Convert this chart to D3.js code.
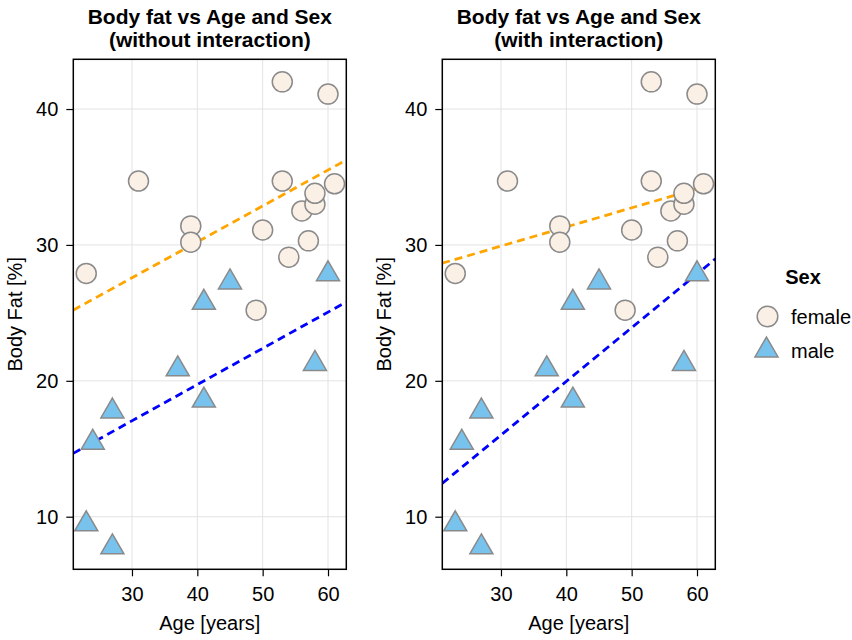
<!DOCTYPE html>
<html>
<head>
<meta charset="utf-8">
<script src="https://cdn.jsdelivr.net/npm/d3@7"></script>
<style>
  body { margin: 0; background: #fff; }
  text { font-family: "Liberation Sans", Arial, sans-serif; fill: #000; }
</style>
</head>
<body>
<script>
// Step 1: data
// =================================
var femaleAge = [23, 31, 39, 39, 49, 50, 53, 53, 54, 56, 57, 58, 58, 60, 61];
var femaleFat = [27.9, 34.7, 31.4, 30.2, 25.2, 31.1, 42.0, 34.7, 29.1, 32.5, 30.3, 33.0, 33.8, 41.1, 34.5];

var maleAge = [23, 24, 27, 27, 37, 41, 41, 45, 58, 60];
var maleFat = [9.7, 15.7, 18.0, 8.0, 21.1, 18.8, 26.0, 27.5, 21.5, 28.1];

// fitted lines, value at the two ends of the age axis
var lineAges = [21, 62.8];
var fitNoInteraction = { female: [25.2, 36.25], male: [14.66, 25.8] };
var fitInteraction = { female: [28.65, 34.53], male: [12.45, 28.97] };

var panelTitles = [
  ["Body fat vs Age and Sex", "(without interaction)"],
  ["Body fat vs Age and Sex", "(with interaction)"]
];
var xTicks = [30, 40, 50, 60];
var yTicks = [10, 20, 30, 40];
var sexLabels = ["female", "male"];

// Step 2: set up the chart
// =================================
var svgWidth = 852;
var svgHeight = 640;

var panels = [
  { left: 73.3, fits: fitNoInteraction, title: panelTitles[0] },
  { left: 442.3, fits: fitInteraction, title: panelTitles[1] }
];
var panelWidth = 273;
var plotTop = 59.3;
var plotBottom = 569.3;

var femaleFill = "#FAF0E6";
var maleFill = "#78C3ED";
var markerStroke = "#8a8a8a";
var lineColors = { female: "#FFA500", male: "#0000FF" };

var svg = d3.select("body")
  .append("svg")
  .attr("width", svgWidth)
  .attr("height", svgHeight);

var xDomain = [21.02, 62.8];
var yDomain = [6.13, 43.66];

var triSize = 230;
var triShift = Math.sqrt(triSize / (Math.sqrt(3) * 3)) / 2; // centre the bbox, not the centroid
var triangle = d3.symbol().type(d3.symbolTriangle).size(triSize);

panels.forEach(function(p, i) {
  var h = plotBottom - plotTop;
  var xScale = d3.scaleLinear().domain(xDomain).range([0, panelWidth]);
  var yScale = d3.scaleLinear().domain(yDomain).range([h, 0]);

  var g = svg.append("g")
    .attr("transform", `translate(${p.left}, ${plotTop})`);

  g.append("clipPath").attr("id", "clip" + i)
    .append("rect").attr("width", panelWidth).attr("height", h);

  // grid
  g.append("g").selectAll("line").data(xTicks).enter().append("line")
    .attr("x1", d => xScale(d)).attr("x2", d => xScale(d))
    .attr("y1", 0).attr("y2", h)
    .attr("stroke", "#e3e3e3").attr("stroke-width", 1);
  g.append("g").selectAll("line").data(yTicks).enter().append("line")
    .attr("y1", d => yScale(d)).attr("y2", d => yScale(d))
    .attr("x1", 0).attr("x2", panelWidth)
    .attr("stroke", "#e3e3e3").attr("stroke-width", 1);

  // axes
  var bottomAxis = d3.axisBottom(xScale).tickValues(xTicks).tickSizeInner(7).tickSizeOuter(0).tickPadding(11);
  var leftAxis = d3.axisLeft(yScale).tickValues(yTicks).tickSizeInner(7).tickSizeOuter(0).tickPadding(8);

  var xa = g.append("g").attr("transform", `translate(0, ${h})`).call(bottomAxis);
  var ya = g.append("g").call(leftAxis);
  [xa, ya].forEach(function(a) {
    a.select(".domain").remove();
    a.selectAll("text").style("font-size", "20px").attr("fill", "#000")
      .style("font-family", "Liberation Sans, Arial, sans-serif");
    a.selectAll("line").attr("stroke", "#000").attr("stroke-width", 1.2);
  });

  var plot = g.append("g").attr("clip-path", `url(#clip${i})`);

  // fitted dashed lines
  ["female", "male"].forEach(function(s) {
    plot.append("line")
      .attr("x1", xScale(lineAges[0])).attr("y1", yScale(p.fits[s][0]))
      .attr("x2", xScale(lineAges[1])).attr("y2", yScale(p.fits[s][1]))
      .attr("stroke", lineColors[s])
      .attr("stroke-width", 2.8)
      .attr("stroke-dasharray", "8,5");
  });

  // female circles
  g.append("g").selectAll("circle").data(femaleAge).enter().append("circle")
    .attr("cx", d => xScale(d))
    .attr("cy", (d, j) => yScale(femaleFat[j]))
    .attr("r", 10)
    .attr("fill", femaleFill)
    .attr("stroke", markerStroke)
    .attr("stroke-width", 1.5);

  // male triangles
  g.append("g").selectAll("path").data(maleAge).enter().append("path")
    .attr("d", triangle)
    .attr("transform", (d, j) => `translate(${xScale(d)}, ${yScale(maleFat[j]) + triShift})`)
    .attr("fill", maleFill)
    .attr("stroke", markerStroke)
    .attr("stroke-width", 1.5);

  // frame
  g.append("rect")
    .attr("width", panelWidth).attr("height", h)
    .attr("fill", "none").attr("stroke", "#000").attr("stroke-width", 1.5);

  // title
  var t = svg.append("text")
    .attr("text-anchor", "middle")
    .style("font-size", "21px")
    .style("font-weight", "bold");
  t.append("tspan").attr("x", p.left + panelWidth / 2).attr("y", 23.5).text(p.title[0]);
  t.append("tspan").attr("x", p.left + panelWidth / 2).attr("y", 46.5).text(p.title[1]);

  // axis labels
  svg.append("text")
    .attr("x", p.left + panelWidth / 2)
    .attr("y", 630)
    .attr("text-anchor", "middle")
    .style("font-size", "20px")
    .text("Age [years]");

  svg.append("text")
    .attr("transform", `translate(${p.left - 51}, ${plotTop + h / 2}) rotate(-90)`)
    .attr("text-anchor", "middle")
    .style("font-size", "20px")
    .text("Body Fat [%]");
});

// legend
var legend = svg.append("g").attr("transform", "translate(750, 0)");
legend.append("text")
  .attr("x", 53).attr("y", 283.5)
  .attr("text-anchor", "middle")
  .style("font-size", "20px")
  .style("font-weight", "bold")
  .text("Sex");

legend.append("circle")
  .attr("cx", 17.5).attr("cy", 316.5).attr("r", 10.3)
  .attr("fill", femaleFill).attr("stroke", markerStroke).attr("stroke-width", 1.5);
legend.append("path")
  .attr("d", triangle)
  .attr("transform", `translate(16.5, ${347 + triShift})`)
  .attr("fill", maleFill).attr("stroke", markerStroke).attr("stroke-width", 1.5);

legend.selectAll("text.item").data(sexLabels).enter().append("text")
  .attr("class", "item")
  .attr("x", 41)
  .attr("y", (d, i) => 324 + i * 34)
  .style("font-size", "20px")
  .text(d => d);
</script>
</body>
</html>
